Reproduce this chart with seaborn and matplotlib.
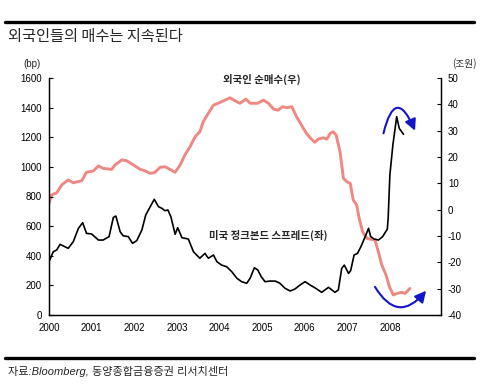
import numpy as np
import pandas as pd
import seaborn as sns
import matplotlib
matplotlib.use("Agg")
import matplotlib.pyplot as plt
from matplotlib.lines import Line2D

# ---- data ----
spread_x = [2000.00, 2000.10, 2000.18, 2000.26, 2000.45, 2000.57, 2000.69, 2000.79, 2000.88, 2001.00,
            2001.16, 2001.27, 2001.41, 2001.51, 2001.57, 2001.67, 2001.74, 2001.86, 2001.96, 2002.06,
            2002.18, 2002.27, 2002.47, 2002.57, 2002.65, 2002.72, 2002.79, 2002.86, 2002.96, 2003.02,
            2003.12, 2003.27, 2003.39, 2003.54, 2003.66, 2003.74, 2003.86, 2003.94, 2004.05, 2004.17,
            2004.29, 2004.41, 2004.52, 2004.64, 2004.72, 2004.82, 2004.90, 2004.98, 2005.07, 2005.19,
            2005.31, 2005.42, 2005.54, 2005.66, 2005.77, 2005.89, 2006.01, 2006.13, 2006.24, 2006.40,
            2006.56, 2006.71, 2006.79, 2006.87, 2006.93, 2007.03, 2007.08, 2007.16, 2007.24, 2007.32,
            2007.42, 2007.50, 2007.55, 2007.63, 2007.73, 2007.83, 2007.94, 2007.96, 2008.00, 2008.07,
            2008.16, 2008.22, 2008.32]
spread_bp = [360, 427, 439, 477, 450, 495, 585, 623, 551, 547,
             506, 506, 529, 659, 668, 562, 535, 529, 484, 502,
             574, 675, 781, 731, 720, 704, 709, 664, 545, 589,
             522, 513, 427, 383, 416, 383, 405, 360, 337, 326,
             292, 248, 225, 214, 248, 319, 304, 259, 225, 229,
             229, 214, 180, 162, 175, 202, 225, 202, 184, 153,
             187, 153, 169, 315, 337, 281, 300, 405, 416, 461,
             529, 585, 529, 513, 506, 529, 580, 653, 945, 1147,
             1339, 1260, 1220]

buy_x = [2000.00, 2000.06, 2000.18, 2000.30, 2000.45, 2000.57, 2000.77, 2000.88, 2001.04, 2001.16,
         2001.27, 2001.47, 2001.55, 2001.71, 2001.82, 2001.98, 2002.14, 2002.25, 2002.37, 2002.47,
         2002.61, 2002.72, 2002.84, 2002.96, 2003.08, 2003.19, 2003.31, 2003.43, 2003.54, 2003.62,
         2003.74, 2003.86, 2003.97, 2004.13, 2004.25, 2004.37, 2004.48, 2004.62, 2004.72, 2004.90,
         2005.03, 2005.15, 2005.27, 2005.38, 2005.48, 2005.58, 2005.70, 2005.81, 2005.93, 2006.05,
         2006.17, 2006.24, 2006.32, 2006.44, 2006.52, 2006.60, 2006.67, 2006.74, 2006.83, 2006.91,
         2006.99, 2007.07, 2007.14, 2007.22, 2007.28, 2007.36, 2007.46, 2007.54, 2007.65, 2007.73,
         2007.81, 2007.91, 2007.99, 2008.08, 2008.17, 2008.28, 2008.36, 2008.47]
buy_trn = [2.4, 5.6, 6.4, 9.4, 11.3, 10.2, 11.0, 14.2, 14.7, 16.6,
           15.7, 15.3, 17.0, 18.9, 18.6, 17.0, 15.3, 14.8, 13.8, 14.0,
           16.1, 16.3, 15.3, 14.2, 17.0, 20.8, 23.9, 27.7, 29.6, 33.4,
           36.6, 39.7, 40.4, 41.6, 42.5, 41.3, 40.4, 42.0, 40.4, 40.4,
           41.6, 40.4, 38.2, 37.8, 39.1, 38.7, 39.1, 35.3, 32.0, 28.8,
           26.6, 25.6, 26.8, 27.3, 26.8, 29.0, 29.6, 28.3, 22.0, 11.9,
           10.6, 10.0, 3.7, 1.8, -3.3, -8.4, -10.9, -11.2, -11.5, -16.0,
           -21.0, -24.8, -29.3, -32.4, -31.8, -31.4, -31.8, -29.9]

year_ticks = [2000, 2001, 2002, 2003, 2004, 2005, 2006, 2007, 2008]
left_ticks = [0, 200, 400, 600, 800, 1000, 1200, 1400, 1600]
right_ticks = [-40, -30, -20, -10, 0, 10, 20, 30, 40, 50]

title = "외국인들의 매수는 지속된다"
label_buy = "외국인 순매수(우)"
label_spread = "미국 정크본드 스프레드(좌)"
source = "자료:Bloomberg, 동양종합금융증권 리서치센터"

# ---- style ----
sns.set_theme(style="white")
plt.rcParams['font.family'] = ['Liberation Sans', 'Noto Sans CJK KR', 'DejaVu Sans']
plt.rcParams['axes.unicode_minus'] = False

fig = plt.figure(figsize=(4.82, 3.84), dpi=100)
ax = fig.add_axes([49/482, 1-315/384, (441-49)/482, (315-78)/384])
ax2 = ax.twinx()

df_s = pd.DataFrame({"x": spread_x, "y": spread_bp})
df_b = pd.DataFrame({"x": buy_x, "y": buy_trn})

sns.lineplot(data=df_b, x="x", y="y", ax=ax2, color="#EE8883", lw=2.1)
sns.lineplot(data=df_s, x="x", y="y", ax=ax, color="black", lw=1.2)
ax.set_zorder(ax2.get_zorder() + 1)
ax.patch.set_visible(False)

ax.set_xlim(2000, 2009.2)
ax.set_ylim(0, 1600)
ax2.set_ylim(-40, 50)
ax.set_xticks(year_ticks)
ax.set_xticklabels([str(y) for y in year_ticks], fontsize=7)
ax.set_yticks(left_ticks)
ax.set_yticklabels([str(v) for v in left_ticks], fontsize=7)
ax2.set_yticks(right_ticks)
ax2.set_yticklabels([str(v) for v in right_ticks], fontsize=7)
ax.set_xlabel("")
ax.set_ylabel("")
ax2.set_ylabel("")

for a in (ax, ax2):
    for s in a.spines.values():
        s.set_color("black")
        s.set_linewidth(0.9)
    a.spines["top"].set_visible(False)
    a.grid(False)

ax.tick_params(axis="x", length=0, pad=6, colors="black")
ax.tick_params(axis="y", direction="in", length=3, width=0.8, pad=5, colors="black", right=False)
ax2.tick_params(axis="y", direction="in", length=3, width=0.8, pad=5, colors="black")

# series labels
ax.text(2005.0, 1590, label_buy, fontsize=7.5, fontweight="bold", ha="center", va="center",
        family=['Noto Sans CJK KR', 'DejaVu Sans'])
ax.text(2005.15, 540, label_spread, fontsize=7.5, fontweight="bold", ha="center", va="center",
        family=['Noto Sans CJK KR', 'DejaVu Sans'])

# blue arrows (right-axis coordinates)
blue = "#1515C8"
ax2.annotate("", xy=(2008.59, 30.0), xytext=(2007.85, 29.0),
             arrowprops=dict(arrowstyle="-|>,head_length=0.55,head_width=0.28", color=blue, lw=1.5,
                             connectionstyle="arc3,rad=-1.5", shrinkA=0, shrinkB=0))
ax2.annotate("", xy=(2008.85, -30.8), xytext=(2007.65, -29.3),
             arrowprops=dict(arrowstyle="-|>,head_length=0.55,head_width=0.28", color=blue, lw=1.5,
                             connectionstyle="arc3,rad=0.7", shrinkA=0, shrinkB=0))

# unit labels
fig.text(32/482, 1-64/384, "(bp)", fontsize=7, ha="center", va="center")
fig.text(464/482, 1-64/384, "(조원)", fontsize=7, ha="center", va="center",
         family=['Noto Sans CJK KR', 'DejaVu Sans'], color="#333333")

# title and rules
fig.add_artist(Line2D([5/482, 474/482], [1-21.5/384, 1-21.5/384], color="black", lw=2.4))
fig.text(8/482, 1-37/384, title, fontsize=11, ha="left", va="center",
         family=['Noto Sans CJK KR', 'DejaVu Sans'])
fig.add_artist(Line2D([5/482, 474/482], [1-357.5/384, 1-357.5/384], color="black", lw=2.4))
fig.text(8/482, 1-371/384, source, fontsize=8, ha="left", va="center", style="italic",
         family=['Liberation Sans', 'Noto Sans CJK KR'])

fig.savefig("out.png", dpi=100)
